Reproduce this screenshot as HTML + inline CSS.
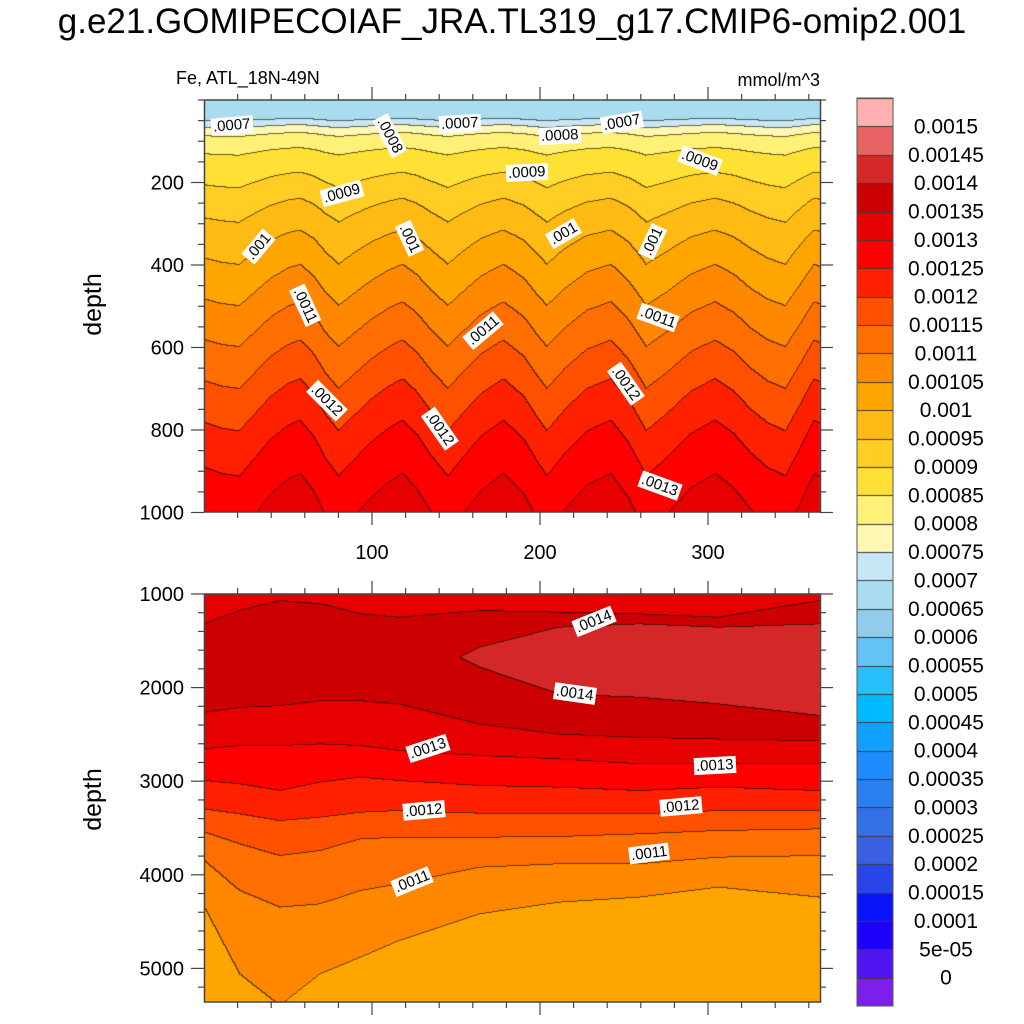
<!DOCTYPE html>
<html><head><meta charset="utf-8">
<style>
body{margin:0;background:#fff;width:1024px;height:1024px;overflow:hidden;position:relative;font-family:"Liberation Sans",sans-serif;}
.t{position:absolute;white-space:nowrap;color:#000;}
.lbl{position:absolute;background:#fff;font-size:15px;padding:0 2px;line-height:17px;white-space:nowrap;transform-origin:center center;}
canvas{position:absolute;}
</style></head><body>
<div class="t" style="left:0;width:1024px;text-align:center;top:2px;font-size:35px;">g.e21.GOMIPECOIAF_JRA.TL319_g17.CMIP6-omip2.001</div>
<div class="t" style="left:176px;top:68px;font-size:18px;">Fe, ATL_18N-49N</div>
<div class="t" style="right:204px;top:70px;font-size:18px;">mmol/m^3</div>
<div class="t" style="left:62px;top:290px;font-size:25px;transform:rotate(-90deg);">depth</div>
<div class="t" style="left:62px;top:785px;font-size:25px;transform:rotate(-90deg);">depth</div>
<canvas id="cv" width="1024" height="1024" style="left:0;top:0"></canvas>
<svg id="ax" width="1024" height="1024" style="position:absolute;left:0;top:0"></svg>
<div id="labels"></div>
<script>
// ---- data ----
const levels=[0,5e-5,1e-4,1.5e-4,2e-4,2.5e-4,3e-4,3.5e-4,4e-4,4.5e-4,5e-4,5.5e-4,6e-4,6.5e-4,7e-4,7.5e-4,8e-4,8.5e-4,9e-4,9.5e-4,1e-3,1.05e-3,1.1e-3,1.15e-3,1.2e-3,1.25e-3,1.3e-3,1.35e-3,1.4e-3,1.45e-3,1.5e-3];
const levelLabels=["0","5e-05","0.0001","0.00015","0.0002","0.00025","0.0003","0.00035","0.0004","0.00045","0.0005","0.00055","0.0006","0.00065","0.0007","0.00075","0.0008","0.00085","0.0009","0.00095","0.001","0.00105","0.0011","0.00115","0.0012","0.00125","0.0013","0.00135","0.0014","0.00145","0.0015"];
const colors=["#7D1EEB","#5014F0","#1E00FA","#0A14FA","#2845E8","#3A5FE0","#3370E6","#2A7FF0","#1E8CFF","#12A0FF","#00BAFF","#28BEFA","#64C3F5","#91CDEB","#AADCF0","#C8E6F5","#FFF8B4","#FFF078","#FFE135","#FFCD23","#FFBA14","#FFA500","#FF8800","#FF6E00","#FF5000","#FF2000","#FF0000","#E60000","#CC0000","#D42828","#E86464","#FFB0B0"];
// top panel: mean profile and seasonal wave
const profDepth=[0,46,62,82,122,190,262,350,445,540,637,735,840,975,1000];
const profVal=[0.00067,0.0007,0.00075,0.0008,0.00085,0.0009,0.00095,0.001,0.00105,0.0011,0.00115,0.0012,0.00125,0.0013,0.00131];
const waveDay=[0,10,21,30,40,50,57,65,72,80,90,100,110,118,126,135,145,155,165,178,190,198,204,215,228,242,252,263,275,290,304,315,325,335,346,355,363,366];
const waveVal=[0.7,0.9,1,0.4,-0.3,-0.8,-1,-0.4,0.4,1,0.4,-0.2,-0.7,-1,-0.5,0.3,1,0.3,-0.4,-1,-0.3,0.5,1,0.2,-0.6,-1,-0.2,1,0.4,-0.5,-1,-0.5,0.2,0.7,1,0,-1,-0.9];
// bottom panel: contour depths per sample day
const bDays=[0,21,45,69,93,116,164,211,259,306,366];
const up135=[1313,1171,1064,1100,1207,1242,1171,1189,1207,1242,1064];
const patchDays=[152,164,211,259,306,366];
const up140=[1670,1563,1349,1313,1349,1313];
const lo140=[1670,1777,2062,2098,2169,2293];
const lo135=[2257,2204,2186,2133,2133,2168,2382,2489,2524,2542,2560];
const lo130=[2649,2613,2613,2596,2613,2667,2720,2756,2809,2809,2809];
const lo125=[2987,3022,3094,3004,2951,2987,3040,3058,3094,3058,3094];
const lo120=[3290,3343,3415,3379,3326,3308,3336,3343,3343,3308,3308];
const lo115=[3539,3664,3789,3735,3610,3593,3593,3585,3557,3521,3504];
const lo110=[3842,4162,4340,4305,4162,4091,3913,3877,3877,3806,3789];
const lo105=[4340,5053,5391,5053,4875,4697,4411,4287,4233,4126,4233];
// contour labels
const topLabels=[[".0007",232,125,-5],[".0008",390,135,62],[".0007",460,123,-3],[".0008",560,135,-3],[".0007",622,122,-10],[".0009",700,160,20],[".0009",342,193,-15],[".0009",527,172,-3],[".001",258,246,-50],[".001",409,238,65],[".001",563,233,-30],[".001",652,241,-65],[".0011",305,305,65],[".0011",483,330,-40],[".0011",658,317,20],[".0012",327,400,45],[".0012",440,428,55],[".0012",626,383,55],[".0013",660,485,20]];
const botLabels=[[".0014",594,621,-22],[".0014",575,693,8],[".0013",428,748,-18],[".0013",715,765,-3],[".0012",424,810,-5],[".0012",681,806,-5],[".0011",649,853,-7],[".0011",412,881,-22]];
const xTicks=[100,200,300];
const topYTicks=[200,400,600,800,1000];
const botYTicks=[1000,2000,3000,4000,5000];

// ---- scales ----
const X0=204,X1=820;
const xs=d=>X0+d*1.68;
const ysTop=d=>100+d*0.4125;
const ysBot=d=>594+(d-1000)*0.0936;
function interp(xa,ya,x){if(x<=xa[0])return ya[0];for(let i=1;i<xa.length;i++){if(x<=xa[i]){const t=(x-xa[i-1])/(xa[i]-xa[i-1]);return ya[i-1]+t*(ya[i]-ya[i-1]);}}return ya[ya.length-1];}
function band(v){let k=0;for(const l of levels){if(v>=l)k++;}return k;}
function amp(d){if(d<100)return d*0.06;if(d<400)return 6+(d-100)*0.14;return 48+(d-400)*0.045;}
function topVal(day,depth){const w=interp(waveDay,waveVal,day);return interp(profDepth,profVal,depth-w*amp(depth));}
function botColumn(day){
  const nd=[1000],nv=[0.00132];
  const a=interp(bDays,up135,day),b=interp(bDays,lo135,day);
  nd.push(Math.max(a,1001));nv.push(0.00135);
  if(day>=patchDays[0]){const u=interp(patchDays,up140,day),l=interp(patchDays,lo140,day);
    nd.push(u-1);nv.push(0.0014-1e-7);nd.push((u+l)/2);nv.push(0.00143);nd.push(l+1);nv.push(0.0014-1e-7);}
  else{nd.push((a+b)/2);nv.push(0.00138);}
  nd.push(b+2);nv.push(0.00135);
  const lows=[[lo130,0.0013],[lo125,0.00125],[lo120,0.0012],[lo115,0.00115],[lo110,0.0011],[lo105,0.00105]];
  for(const [arr,v] of lows){let d=interp(bDays,arr,day);if(d<=nd[nd.length-1])d=nd[nd.length-1]+1;nd.push(d);nv.push(v);}
  nd.push(Math.max(5500,nd[nd.length-1]+10));nv.push(0.00103);
  return [nd,nv];
}
// ---- draw fields ----
const cv=document.getElementById('cv'),ctx=cv.getContext('2d');
const img=ctx.createImageData(1024,1024);
const rgb=colors.map(c=>[parseInt(c.slice(1,3),16),parseInt(c.slice(3,5),16),parseInt(c.slice(5,7),16)]);
function paint(y0,y1,fn){
  const W=X1-X0,H=y1-y0,B=[];
  for(let j=0;j<H;j++){B.push(new Int8Array(W));}
  for(let i=0;i<W;i++){const day=(i+0.5)/1.68;const col=fn(day);
    for(let j=0;j<H;j++){B[j][i]=band(col(y0+j+0.5));}}
  for(let j=0;j<H;j++)for(let i=0;i<W;i++){
    const k=B[j][i];let c=rgb[k];let line=(j>0&&B[j-1][i]!==k)||(i>0&&B[j][i-1]!==k);
    const p=((y0+j)*1024+X0+i)*4;
    const f=line?0.4:1;
    img.data[p]=c[0]*f;img.data[p+1]=c[1]*f;img.data[p+2]=c[2]*f;img.data[p+3]=255;}
}
paint(100,512,day=>(y=>topVal(day,(y-100)/0.4125)));
paint(594,1002,day=>{const [nd,nv]=botColumn(day);return y=>interp(nd,nv,1000+(y-594)/0.0936);});
// colorbar
const cbTop=98,cbH=28.375;
for(let k=0;k<32;k++){const c=rgb[31-k];const ya=Math.round(cbTop+k*cbH),yb=Math.round(cbTop+(k+1)*cbH);
  for(let y=ya;y<yb;y++)for(let x=857;x<893;x++){const p=(y*1024+x)*4;const e=(y===ya);img.data[p]=e?60:c[0];img.data[p+1]=e?60:c[1];img.data[p+2]=e?60:c[2];img.data[p+3]=255;}}
ctx.putImageData(img,0,0);

// ---- axes ----
const svg=document.getElementById('ax');const NS='http://www.w3.org/2000/svg';
function ln(x1,y1,x2,y2,name,w){const e=document.createElementNS(NS,'line');e.setAttribute('x1',x1);e.setAttribute('y1',y1);e.setAttribute('x2',x2);e.setAttribute('y2',y2);e.setAttribute('stroke','#444');e.setAttribute('stroke-width',w||1.2);


svg.appendChild(e);}
function tx(x,y,s,anchor,name,fs){const e=document.createElementNS(NS,'text');e.setAttribute('x',x);e.setAttribute('y',y);e.setAttribute('font-size',fs||'20');e.setAttribute('font-family','Liberation Sans, sans-serif');e.setAttribute('text-anchor',anchor);e.textContent=s;


svg.appendChild(e);}
function frame(yT,yB,ysc,dMin,dMax,minorStep,majors,name){
  const r=document.createElementNS(NS,'rect');r.setAttribute('x',X0+0.5);r.setAttribute('y',yT);r.setAttribute('width',X1-X0);r.setAttribute('height',yB-yT);r.setAttribute('fill','none');r.setAttribute('stroke','#444');r.setAttribute('stroke-width','1.5');
  
  
  svg.appendChild(r);
  for(let d=20;d<366;d+=20){const x=xs(d);const maj=d%100===0;const L=maj?13:6;ln(x,yB,x,yB+L,'x-tick');ln(x,yT,x,yT-L,'x-tick');}
  for(let d=Math.ceil(dMin/minorStep)*minorStep;d<=dMax;d+=minorStep){const y=ysc(d);if(y<yT-0.5||y>yB+0.5)continue;const maj=majors.includes(d);const L=maj?13:6;ln(X0,y,X0-L,y,'y-tick');ln(X1,y,X1+L,y,'y-tick');}
  majors.forEach(d=>tx(X0-20,ysc(d)+7,String(d),'end','y-tick-label'));
}
frame(100,512,ysTop,0,1000,50,topYTicks,'top-panel');
frame(594,1002,ysBot,1000,5400,200,botYTicks,'bottom-panel');
xTicks.forEach(d=>tx(xs(d),559,String(d),'middle','x-tick-label'));
const cb=document.createElementNS(NS,'rect');cb.setAttribute('x',857);cb.setAttribute('y',cbTop);cb.setAttribute('width',36);cb.setAttribute('height',32*cbH);cb.setAttribute('fill','none');cb.setAttribute('stroke','#555');


svg.appendChild(cb);
for(let i=0;i<31;i++){const lab=levelLabels[30-i];tx(946,cbTop+(i+1)*cbH+7,lab,'middle','colorbar-label','21');}
// contour labels
const LD=document.getElementById('labels');
function addLabels(arr,name){arr.forEach(([s,x,y,r])=>{const d=document.createElement('div');d.className='lbl';d.textContent=s;


LD.appendChild(d);const w=d.offsetWidth,h=d.offsetHeight;d.style.left=(x-w/2)+'px';d.style.top=(y-h/2)+'px';d.style.transform='rotate('+r+'deg)';});}
addLabels(topLabels,'contour-label');
addLabels(botLabels,'contour-label');
</script>
</body></html>
